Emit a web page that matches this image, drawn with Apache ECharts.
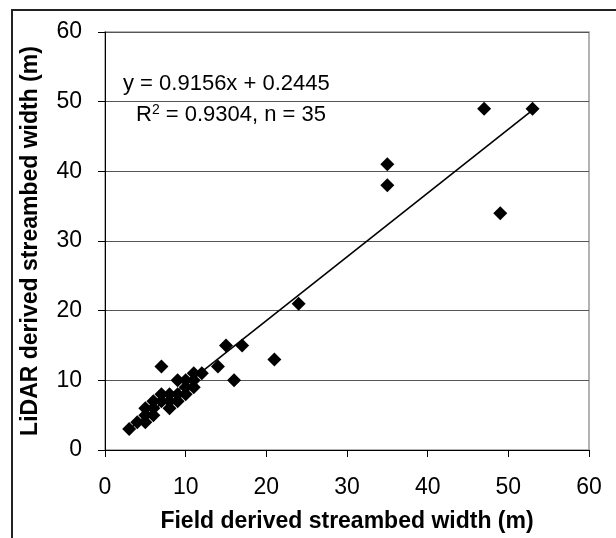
<!DOCTYPE html>
<html>
<head>
<meta charset="utf-8">
<script src="https://cdn.jsdelivr.net/npm/echarts@6/dist/echarts.min.js"></script>
<style>
  html, body { margin: 0; padding: 0; background: #fff; }
  #chart { width: 616px; height: 538px; }
</style>
</head>
<body>
<div id="chart"></div>
<script>
// field vs lidar streambed width (m)
var fieldWidth = [3, 4, 5, 5, 5, 6, 6, 7, 7, 8, 8, 8, 9, 9, 9, 10, 10, 10, 11, 11, 11, 6, 7,
                  12, 14, 15, 16, 17, 21, 24, 35, 35, 47, 49, 53];
var lidarWidth = [3, 4, 4, 5, 6, 6, 7, 7, 12, 6, 7, 8, 7, 8, 10, 8, 9, 10, 9, 10, 11, 5, 8,
                  11, 12, 15, 10, 15, 13, 21, 41, 38, 49, 34, 49];

// linear trend as printed on the chart
var slope = 0.9156;
var intercept = 0.2445;
var rSquared = 0.9304;

var axisTicks = [0, 10, 20, 30, 40, 50, 60];

var points = fieldWidth.map(function (x, i) { return [x, lidarWidth[i]]; });
var xMin = Math.min.apply(null, fieldWidth);
var xMax = Math.max.apply(null, fieldWidth);
var trend = [xMin, xMax].map(function (x) { return [x, slope * x + intercept]; });

var font = 'Liberation Sans, Arial, sans-serif';

var chart = echarts.init(document.getElementById('chart'));
chart.setOption({
  animation: false,
  grid: {
    left: 105, right: 27, top: 32, bottom: 85,
    show: true, borderColor: '#9a9a9a', borderWidth: 1.5
  },
  xAxis: {
    type: 'value',
    min: axisTicks[0], max: axisTicks[axisTicks.length - 1], interval: 10,
    name: 'Field derived streambed width (m)',
    nameLocation: 'middle', nameGap: 60,
    nameTextStyle: { fontFamily: font, fontSize: 23, fontWeight: 'bold', color: '#000' },
    axisLine: { show: true, lineStyle: { color: '#000', width: 1 } },
    axisTick: { show: true, length: 7, lineStyle: { color: '#000' } },
    axisLabel: { margin: 26, fontFamily: font, fontSize: 23, color: '#000' },
    splitLine: { show: false }
  },
  yAxis: {
    type: 'value',
    min: axisTicks[0], max: axisTicks[axisTicks.length - 1], interval: 10,
    name: 'LiDAR derived streambed width (m)',
    nameLocation: 'middle', nameGap: 63,
    nameTextStyle: { fontFamily: font, fontSize: 23, fontWeight: 'bold', color: '#000' },
    axisLine: { show: true, lineStyle: { color: '#000', width: 1 } },
    axisTick: { show: true, length: 7, lineStyle: { color: '#000' } },
    axisLabel: { margin: 23, fontFamily: font, fontSize: 23, color: '#000' },
    splitLine: { show: true, lineStyle: { color: '#555', width: 1 } }
  },
  series: [
    {
      type: 'line',
      data: trend,
      showSymbol: false,
      lineStyle: { color: '#000', width: 1.6 },
      z: 2
    },
    {
      type: 'scatter',
      data: points,
      symbol: 'diamond',
      symbolSize: 14,
      itemStyle: { color: '#000', opacity: 1 },
      z: 3
    }
  ],
  graphic: [
    // outer frame (top and left edges only are in view)
    { type: 'line', shape: { x1: 11, y1: 10, x2: 616, y2: 10 }, style: { stroke: '#222', lineWidth: 2 } },
    { type: 'line', shape: { x1: 12, y1: 10, x2: 12, y2: 538 }, style: { stroke: '#222', lineWidth: 2 } },
    {
      type: 'text', left: 123, top: 73, z: 10,
      style: {
        text: 'y = ' + slope + 'x + ' + intercept,
        fontFamily: font, fontSize: 22, fill: '#000'
      }
    },
    {
      type: 'text', left: 136, top: 103, z: 10,
      style: {
        text: 'R{sup|2} = ' + rSquared + ', n = ' + fieldWidth.length,
        fontFamily: font, fontSize: 22, fill: '#000',
        rich: {
          sup: { fontFamily: font, fontSize: 14, fill: '#000', verticalAlign: 'top', padding: [0, 0, 10, 0] }
        }
      }
    }
  ]
});
</script>
</body>
</html>
